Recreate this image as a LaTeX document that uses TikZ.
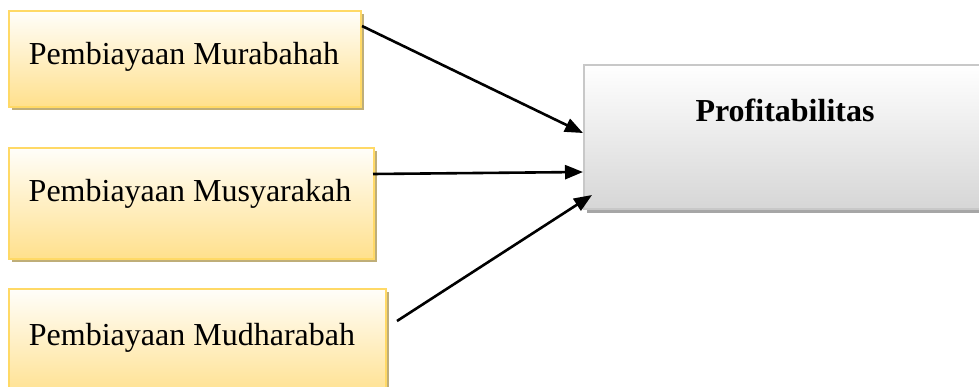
\documentclass[tikz,border=0pt]{standalone}
\usepackage{fontspec}
\setmainfont{Liberation Serif}
\usetikzlibrary{arrows.meta,shadows}
\definecolor{goldedge}{HTML}{FFD966}
\definecolor{goldtop}{HTML}{FFFEFA}
\definecolor{goldbot}{HTML}{FFE08C}
\definecolor{goldshadow}{HTML}{BFAE78}
\definecolor{greyedge}{HTML}{C8C8C8}
\definecolor{greybot}{HTML}{D6D6D6}
\definecolor{greyshadow}{HTML}{A6A6A6}
\tikzset{
  inbox/.style={draw=goldedge, line width=2pt, top color=goldtop, bottom color=goldbot,
    anchor=north west, inner sep=0pt,
    drop shadow={shadow xshift=3pt, shadow yshift=-3pt, fill=goldshadow, opacity=1}},
  outbox/.style={draw=greyedge, line width=2pt, top color=white, bottom color=greybot,
    anchor=north west, inner sep=0pt,
    drop shadow={shadow xshift=3pt, shadow yshift=-4pt, fill=greyshadow, opacity=1}},
  lbl/.style={anchor=base, inner sep=0pt, font=\fontsize{32}{38}\selectfont},
  link/.style={line width=2.6pt, -{Triangle[length=18pt,width=14pt]}}
}
\begin{document}
\begin{tikzpicture}[x=1pt,y=-1pt]
\useasboundingbox (0,0) rectangle (979,387);
% input boxes
\node[inbox, minimum width=352pt, minimum height=96pt] (m1) at (8,10) {};
\node[inbox, minimum width=365pt, minimum height=111pt] (m2) at (8,147) {};
\node[inbox, minimum width=377pt, minimum height=110pt] (m3) at (8,288) {};
% target box
\node[outbox, minimum width=410pt, minimum height=144pt] (p) at (583,64) {};
% labels
\node[lbl] (t1) at (184,65) {Pembiayaan Murabahah};
\node[lbl] (t2) at (190,202) {Pembiayaan Musyarakah};
\node[lbl] (t3) at (192,345) {Pembiayaan Mudharabah};
\node[lbl, font=\fontsize{32}{38}\selectfont\bfseries] (tp) at (785,122) {Profitabilitas};
% connector ends
\coordinate (s1) at (362,26);
\coordinate (s2) at (373,174);
\coordinate (s3) at (397,321);
\coordinate (e1) at (583,133);
\coordinate (e2) at (583,172);
\coordinate (e3) at (592,195);
\draw[link] (s1) -- (e1);
\draw[link] (s2) -- (e2);
\draw[link] (s3) -- (e3);
\end{tikzpicture}
\end{document}
